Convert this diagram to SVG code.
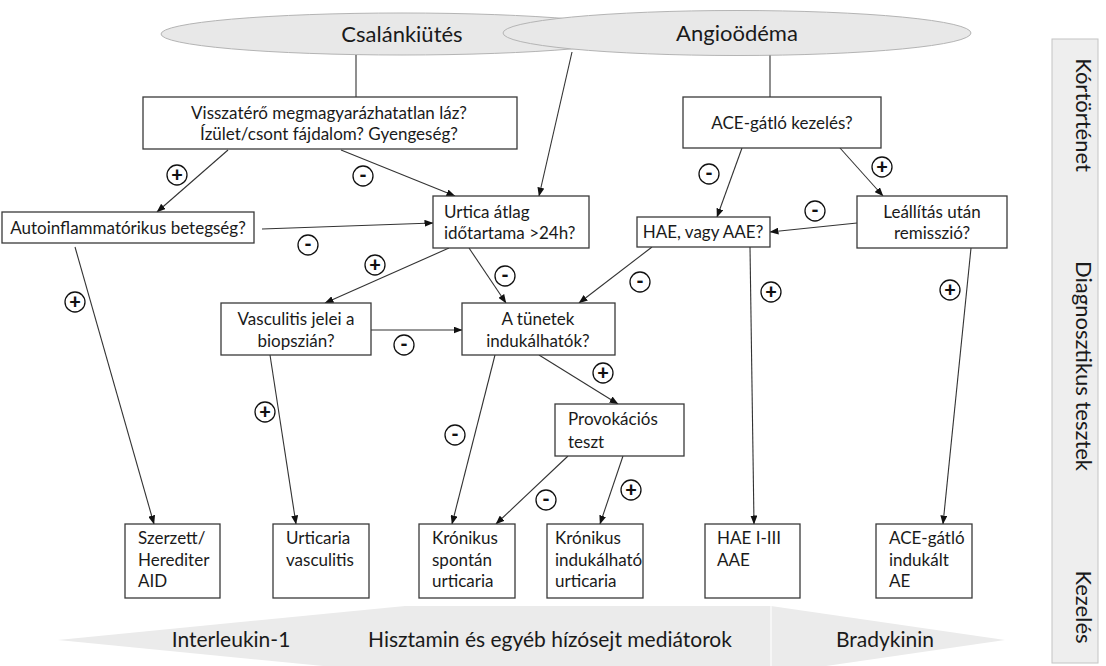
<svg xmlns="http://www.w3.org/2000/svg" width="1106" height="666" viewBox="0 0 1106 666">
<defs>
<marker id="ah" markerUnits="userSpaceOnUse" markerWidth="9" markerHeight="7" refX="8.5" refY="3.5" orient="auto">
<path d="M0,0 L9,3.5 L0,7 z" fill="#111"/>
</marker>
<style>
text{font-family:Lato,"Liberation Sans",sans-serif;fill:#1a1a1a}
.box{fill:#fff;stroke:#3a3a3a;stroke-width:1.3}
.ell{fill:#e8e8e8;stroke:#b4b4b4;stroke-width:1}
.t{font-size:17px}
.c{text-anchor:middle}
.big{font-size:22px}
.band{font-size:21px}
.con line{stroke:#333;stroke-width:1.1;fill:none}
.con .a{marker-end:url(#ah)}
.lbl circle{fill:#fff;stroke:#111;stroke-width:1.3}
.lbl text{font-size:20px;font-weight:900;text-anchor:middle;fill:#111}
</style>
</defs>
<rect width="1106" height="666" fill="#fff"/>

<!-- side strip -->
<g id="phases">
<rect x="1052" y="39" width="46" height="624" fill="#eeeeee" stroke="#c4c4c4" stroke-width="1"/>
<text class="big c" transform="translate(1084,115) rotate(90)" dominant-baseline="central">Kórtörténet</text>
<text class="big c" transform="translate(1084,366) rotate(90)" dominant-baseline="central">Diagnosztikus tesztek</text>
<text class="big c" transform="translate(1084,607) rotate(90)" dominant-baseline="central">Kezelés</text>
</g>

<!-- bottom band -->
<g id="mediators">
<polygon points="58,640 405,606 771,606 771,674 405,674" fill="#ebebeb"/>
<polygon points="771,606 1005,640 771,674" fill="#ebebeb"/>
<line x1="771" y1="606" x2="771" y2="666" stroke="#fafafa" stroke-width="1.5"/>
<text class="band c" x="231" y="647">Interleukin-1</text>
<text class="band c" x="550" y="647">Hisztamin és egyéb hízósejt mediátorok</text>
<text class="band c" x="885" y="647">Bradykinin</text>
</g>

<g id="n-csalankiutes">
<ellipse class="ell" cx="402" cy="34" rx="241" ry="21"/>
<text class="big c" x="402" y="42">Csalánkiütés</text>
</g>
<g id="n-angioodema">
<ellipse class="ell" cx="737" cy="33" rx="234" ry="22.5"/>
<text class="big c" x="737" y="41">Angioödéma</text>
</g>

<g class="con" id="connectors">
<line x1="356" y1="55" x2="356" y2="97"/>
<line x1="770" y1="55.5" x2="770" y2="97"/>
<line class="a" x1="572" y1="52" x2="539" y2="196"/>
<line class="a" x1="228" y1="150" x2="157" y2="212"/>
<line class="a" x1="341" y1="150" x2="455" y2="196"/>
<line class="a" x1="262" y1="229" x2="433" y2="223"/>
<line class="a" x1="75" y1="247" x2="154" y2="524"/>
<line class="a" x1="742" y1="148" x2="717" y2="217"/>
<line class="a" x1="840" y1="148" x2="883" y2="196"/>
<line class="a" x1="857" y1="223" x2="770" y2="232"/>
<line class="a" x1="449" y1="248" x2="325" y2="303"/>
<line class="a" x1="469" y1="248" x2="506" y2="303"/>
<line class="a" x1="652" y1="247" x2="579" y2="303"/>
<line class="a" x1="371" y1="330" x2="462" y2="330"/>
<line class="a" x1="270" y1="355" x2="296" y2="524"/>
<line class="a" x1="495" y1="355" x2="452" y2="524"/>
<line class="a" x1="539" y1="355" x2="618" y2="404"/>
<line class="a" x1="568" y1="456" x2="496" y2="524"/>
<line class="a" x1="623" y1="456" x2="600" y2="524"/>
<line class="a" x1="750" y1="247" x2="754" y2="524"/>
<line class="a" x1="971" y1="248" x2="943" y2="524"/>
</g>

<g class="lbl" id="labels">
<circle cx="177" cy="175" r="10"/><text x="177" y="182">+</text>
<circle cx="363" cy="176" r="10"/><text x="363" y="182">-</text>
<circle cx="308" cy="245" r="10"/><text x="308" y="251">-</text>
<circle cx="75" cy="302" r="10"/><text x="75" y="309">+</text>
<circle cx="709" cy="174" r="10"/><text x="709" y="180">-</text>
<circle cx="882" cy="167" r="10"/><text x="882" y="174">+</text>
<circle cx="815" cy="211" r="10"/><text x="815" y="217">-</text>
<circle cx="375" cy="265" r="10"/><text x="375" y="272">+</text>
<circle cx="505" cy="276" r="10"/><text x="505" y="282">-</text>
<circle cx="640" cy="282" r="10"/><text x="640" y="288">-</text>
<circle cx="404" cy="345" r="10"/><text x="404" y="351">-</text>
<circle cx="265" cy="412" r="10"/><text x="265" y="419">+</text>
<circle cx="455" cy="435" r="10"/><text x="455" y="441">-</text>
<circle cx="603" cy="373" r="10"/><text x="603" y="380">+</text>
<circle cx="546" cy="500" r="10"/><text x="546" y="506">-</text>
<circle cx="631" cy="490" r="10"/><text x="631" y="497">+</text>
<circle cx="771" cy="292" r="10"/><text x="771" y="299">+</text>
<circle cx="950" cy="290" r="10"/><text x="950" y="297">+</text>
</g>

<g id="n-laz">
<rect class="box" x="143" y="97" width="374" height="52"/>
<text class="t c" x="329" y="119">Visszatérő megmagyarázhatatlan láz?</text>
<text class="t c" x="329" y="140">Ízület/csont fájdalom? Gyengeség?</text>
</g>
<g id="n-ace">
<rect class="box" x="683" y="97" width="198" height="51"/>
<text class="t c" x="782" y="129">ACE-gátló kezelés?</text>
</g>
<g id="n-autoinfl">
<rect class="box" x="2" y="212" width="252" height="31"/>
<text class="t c" x="128" y="234">Autoinflammatórikus betegség?</text>
</g>
<g id="n-urtica">
<rect class="box" x="433" y="196" width="156" height="52"/>
<text class="t" x="444" y="218">Urtica átlag</text>
<text class="t" x="444" y="239">időtartama &gt;24h?</text>
</g>
<g id="n-hae">
<rect class="box" x="637" y="217" width="133" height="30"/>
<text class="t c" x="703" y="238">HAE, vagy AAE?</text>
</g>
<g id="n-leallitas">
<rect class="box" x="857" y="196" width="150" height="52"/>
<text class="t c" x="932" y="218">Leállítás után</text>
<text class="t c" x="932" y="239">remisszió?</text>
</g>
<g id="n-vasculitis">
<rect class="box" x="221" y="303" width="150" height="52"/>
<text class="t c" x="296" y="325">Vasculitis jelei a</text>
<text class="t c" x="296" y="347">biopszián?</text>
</g>
<g id="n-tunetek">
<rect class="box" x="462" y="303" width="153" height="52"/>
<text class="t c" x="538" y="325">A tünetek</text>
<text class="t c" x="538" y="347">indukálhatók?</text>
</g>
<g id="n-provokacios">
<rect class="box" x="555" y="404" width="129" height="52"/>
<text class="t" x="568" y="425">Provokációs</text>
<text class="t" x="568" y="448">teszt</text>
</g>
<g id="n-aid">
<rect class="box" x="125" y="524" width="95" height="74"/>
<text class="t" x="138" y="544">Szerzett/</text>
<text class="t" x="138" y="566">Herediter</text>
<text class="t" x="138" y="587">AID</text>
</g>
<g id="n-uv">
<rect class="box" x="273" y="524" width="96" height="74"/>
<text class="t" x="286" y="544">Urticaria</text>
<text class="t" x="286" y="566">vasculitis</text>
</g>
<g id="n-csu">
<rect class="box" x="419" y="524" width="96" height="74"/>
<text class="t" x="432" y="544">Krónikus</text>
<text class="t" x="432" y="566">spontán</text>
<text class="t" x="432" y="587">urticaria</text>
</g>
<g id="n-cindu">
<rect class="box" x="547" y="524" width="96" height="74"/>
<text class="t" x="555" y="544">Krónikus</text>
<text class="t" x="555" y="566">indukálható</text>
<text class="t" x="555" y="587">urticaria</text>
</g>
<g id="n-haeiii">
<rect class="box" x="705" y="524" width="95" height="74"/>
<text class="t" x="717" y="544">HAE I-III</text>
<text class="t" x="717" y="566">AAE</text>
</g>
<g id="n-aceae">
<rect class="box" x="876" y="524" width="96" height="74"/>
<text class="t" x="889" y="544">ACE-gátló</text>
<text class="t" x="889" y="566">indukált</text>
<text class="t" x="889" y="587">AE</text>
</g>
</svg>
